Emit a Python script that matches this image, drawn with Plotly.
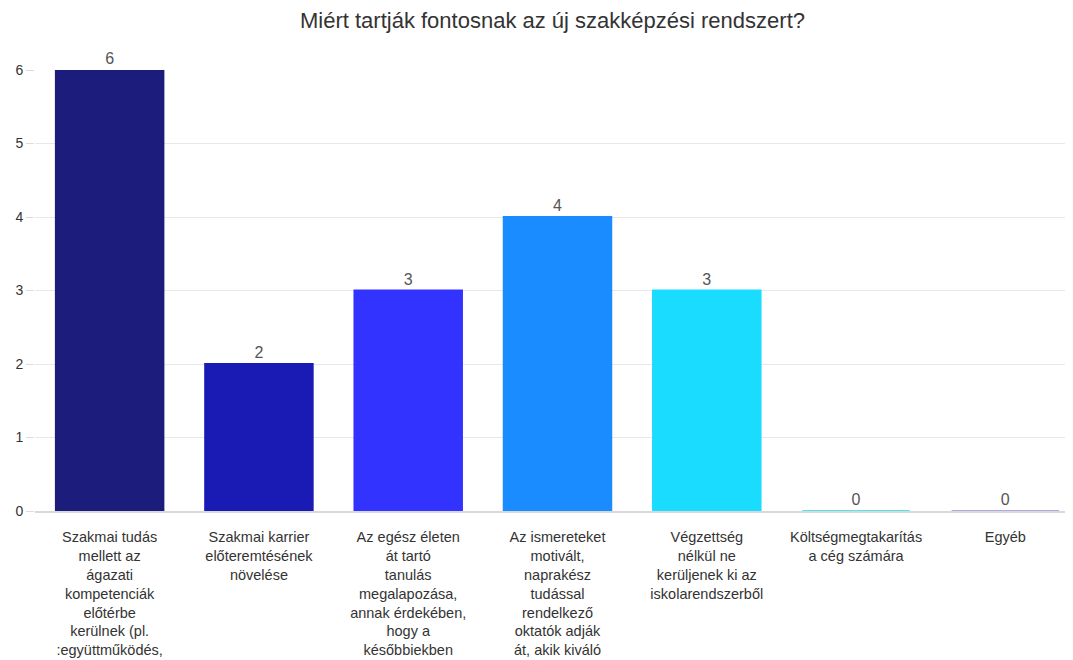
import plotly.graph_objects as go

categories = [
    "Szakmai tudás<br>mellett az<br>ágazati<br>kompetenciák<br>előtérbe<br>kerülnek (pl.<br>:együttműködés,",
    "Szakmai karrier<br>előteremtésének<br>növelése",
    "Az egész életen<br>át tartó<br>tanulás<br>megalapozása,<br>annak érdekében,<br>hogy a<br>későbbiekben",
    "Az ismereteket<br>motivált,<br>naprakész<br>tudással<br>rendelkező<br>oktatók adják<br>át, akik kiváló",
    "Végzettség<br>nélkül ne<br>kerüljenek ki az<br>iskolarendszerből",
    "Költségmegtakarítás<br>a cég számára",
    "Egyéb",
]
values = [6, 2, 3, 4, 3, 0, 0]
colors = ["#1c1c7c", "#1a1ab5", "#3333ff", "#1a8cff", "#1adcff", "#4ee6ec", "#b2a9e4"]
title = "Miért tartják fontosnak az új szakképzési rendszert?"

fig = go.Figure(
    go.Bar(
        x=list(range(len(categories))),
        y=values,
        marker=dict(color=colors, line=dict(color=colors, width=2)),
        text=[str(v) for v in values],
        textposition="outside",
        textfont=dict(size=16, color="#555555"),
        cliponaxis=False,
        width=0.72,
    )
)

fig.update_layout(
    width=1073,
    height=660,
    margin=dict(l=27, r=1, t=62, b=157),
    paper_bgcolor="white",
    plot_bgcolor="white",
    font=dict(family="Liberation Sans, Arial, sans-serif", color="#333333", size=14),
    title=dict(
        text=title,
        x=0.5 + 8 / 1073,
        xanchor="center",
        y=1 - 12 / 660,
        yanchor="middle",
        font=dict(size=22, color="#333333", family="Liberation Sans, Arial, sans-serif"),
    ),
    showlegend=False,
    bargap=0.28,
)
fig.update_xaxes(
    tickmode="array",
    tickvals=list(range(len(categories))),
    ticktext=categories,
    tickangle=0,
    showline=True,
    linecolor="#d9d9d9",
    linewidth=1.5,
    showgrid=False,
    ticks="",
    ticklabelstandoff=12,
    tickfont=dict(size=14.5, color="#333333"),
    automargin=False,
    range=[-0.5, 6.5],
)
fig.update_yaxes(
    range=[0, 6],
    dtick=1,
    showgrid=True,
    gridcolor="#e8e8e8",
    zeroline=False,
    ticks="outside",
    ticklen=8,
    tickcolor="#dddddd",
    tickfont=dict(size=14, color="#333333"),
    automargin=False,
)

fig.write_html("out.html")
